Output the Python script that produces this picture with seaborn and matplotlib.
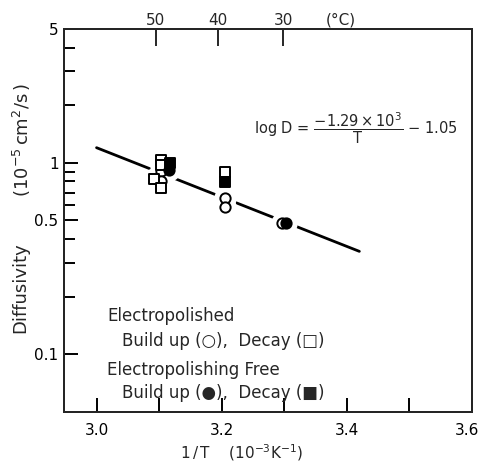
import numpy as np
import pandas as pd
import matplotlib
matplotlib.use("Agg")
import matplotlib.pyplot as plt
import matplotlib.transforms as mtransforms
from matplotlib.ticker import FixedLocator, FixedFormatter, NullFormatter
import seaborn as sns

# ---- data: 1/T (10^-3 K^-1) vs diffusivity (10^-5 cm^2/s) ----
ep_build_x = [3.103, 3.103, 3.205, 3.205, 3.297]
ep_build_y = [0.91, 0.80, 0.655, 0.59, 0.485]
ep_decay_x = [3.103, 3.103, 3.092, 3.103, 3.205]
ep_decay_y = [1.04, 0.98, 0.82, 0.74, 0.90]
free_build_x = [3.115, 3.303]
free_build_y = [0.92, 0.485]
free_decay_x = [3.117, 3.205]
free_decay_y = [1.00, 0.79]

fit_x = [3.0, 3.42]
fit_y = [1.20, 0.345]

x_major = [3.0, 3.2, 3.4, 3.6]
x_minor = [3.1, 3.3, 3.5]
y_major = [0.1, 0.5, 1, 5]
y_major_labels = ["0.1", "0.5", "1", "5"]
y_minor = [0.2, 0.3, 0.4, 0.6, 0.7, 0.8, 0.9, 2, 3, 4]
celsius = [50, 40, 30]

sns.set_style("ticks")
plt.rcParams['font.family'] = ['DejaVu Sans']
plt.rcParams['mathtext.default'] = 'regular'

fig = plt.figure(figsize=(4.78, 4.63), dpi=100)
ax = fig.add_axes([64/478, 51/463, 408/478, 383/463])

groups = [
    (ep_build_x, ep_build_y, 'o', 'white'),
    (ep_decay_x, ep_decay_y, 's', 'white'),
    (free_build_x, free_build_y, 'o', 'black'),
    (free_decay_x, free_decay_y, 's', 'black'),
]

# fit line
fit_df = pd.DataFrame({"x": fit_x, "y": fit_y})
sns.lineplot(data=fit_df, x="x", y="y", ax=ax, color="black", lw=2.0, zorder=2)

# white halos to break the line around the markers
for gx, gy, m, fc in groups:
    d = pd.DataFrame({"x": gx, "y": gy})
    sns.scatterplot(data=d, x="x", y="y", ax=ax, marker='o', s=260,
                    color='white', linewidth=0, zorder=3)
for gx, gy, m, fc in groups:
    d = pd.DataFrame({"x": gx, "y": gy})
    sns.scatterplot(data=d, x="x", y="y", ax=ax, marker=m,
                    s=55 if m == 'o' else 45,
                    facecolor=fc, edgecolor='black', linewidth=1.4, zorder=4)

ax.set_yscale('log')
ax.set_xlim(2.948, 3.6)
ax.set_ylim(0.05, 5)

ax.xaxis.set_major_locator(FixedLocator(x_major))
ax.xaxis.set_major_formatter(FixedFormatter([f"{v:.1f}" for v in x_major]))
ax.xaxis.set_minor_locator(FixedLocator(x_minor))
ax.yaxis.set_major_locator(FixedLocator(y_major))
ax.yaxis.set_major_formatter(FixedFormatter(y_major_labels))
ax.yaxis.set_minor_locator(FixedLocator(y_minor))
ax.yaxis.set_minor_formatter(NullFormatter())

ax.tick_params(axis='both', which='both', direction='in', width=1.4,
               labelsize=11, top=False, right=False, colors='black')
ax.tick_params(axis='x', which='both', length=10, pad=8)
ax.tick_params(axis='y', which='major', length=10, pad=4)
ax.tick_params(axis='y', which='minor', length=8)
for s in ax.spines.values():
    s.set_visible(True)
    s.set_linewidth(1.4)
    s.set_color('black')

# nudge the last x tick label inside the figure
fig.canvas.draw()
for lab in ax.get_xticklabels():
    if lab.get_text() == "3.6":
        lab.set_transform(lab.get_transform() +
                          mtransforms.ScaledTranslation(-5/100, 0, fig.dpi_scale_trans))

ax.set_xlabel(r"1$\,$/$\,$T    $(10^{-3}K^{-1})$", fontsize=11)
ax.xaxis.set_label_coords(0.434, -0.078)
ax.set_ylabel("Diffusivity", fontsize=13)
ax.yaxis.set_label_coords(-0.085, 0.324)
ax.text(-0.103, 0.71, r"$(10^{-5}\,cm^{2}/s\,)$", transform=ax.transAxes,
        rotation=90, fontsize=13, ha='center', va='center')

# top axis in degrees Celsius
ax2 = ax.twiny()
ax2.set_xlim(ax.get_xlim())
ax2.set_xticks([1000.0 / (273.15 + c) for c in celsius])
ax2.set_xticklabels([str(c) for c in celsius])
ax2.tick_params(axis='x', direction='in', length=12, width=1.4, labelsize=11, pad=1)
ax2.grid(False)
for s in ax2.spines.values():
    s.set_linewidth(1.4)
trans = mtransforms.blended_transform_factory(ax.transData, ax.transAxes)
ax.text(3.39, 1.0235, "(°C)", transform=trans, fontsize=11, ha='center', va='center')

# equation
ax.text(3.578, 1.52, r"log D = $\dfrac{-1.29\times10^{3}}{T}$ $-$ 1.05",
        fontsize=10.5, ha='right', va='center')

# legend text
ax.text(3.017, 0.158, "Electropolished", fontsize=12, ha='left', va='center')
ax.text(3.04, 0.118, "Build up (○),  Decay (□)", fontsize=12, ha='left', va='center')
ax.text(3.017, 0.083, "Electropolishing Free", fontsize=12, ha='left', va='center')
ax.text(3.04, 0.063, "Build up (●),  Decay (■)", fontsize=12, ha='left', va='center')

fig.savefig("out.png", dpi=100)
